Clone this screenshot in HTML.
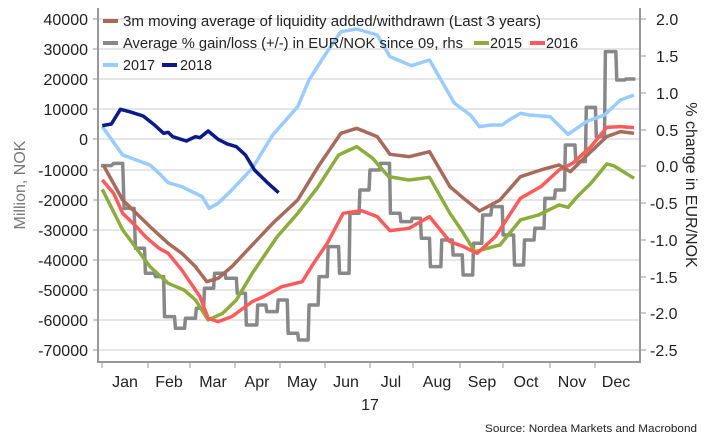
<!DOCTYPE html>
<html><head><meta charset="utf-8"><style>
html,body{margin:0;padding:0;background:#fff;}
svg{display:block;font-family:"Liberation Sans",sans-serif;}
</style></head><body>
<svg width="710" height="448" viewBox="0 0 710 448" xmlns="http://www.w3.org/2000/svg">
<g stroke="#e6e6e6" stroke-width="2">
<line x1="99" x2="640" y1="19" y2="19"/><line x1="99" x2="640" y1="49" y2="49"/><line x1="99" x2="640" y1="79" y2="79"/><line x1="99" x2="640" y1="109" y2="109"/><line x1="99" x2="640" y1="139" y2="139"/><line x1="99" x2="640" y1="170" y2="170"/><line x1="99" x2="640" y1="200" y2="200"/><line x1="99" x2="640" y1="230" y2="230"/><line x1="99" x2="640" y1="260" y2="260"/><line x1="99" x2="640" y1="290" y2="290"/><line x1="99" x2="640" y1="320" y2="320"/><line x1="99" x2="640" y1="350" y2="350"/>
</g>
<g stroke="#999" stroke-width="2" fill="none">
<polyline points="98,8 98,362 640,362 640,8"/>
</g>
<g stroke="#999" stroke-width="1">
<line x1="93" x2="98" y1="19" y2="19"/><line x1="93" x2="98" y1="49" y2="49"/><line x1="93" x2="98" y1="79" y2="79"/><line x1="93" x2="98" y1="109" y2="109"/><line x1="93" x2="98" y1="139" y2="139"/><line x1="93" x2="98" y1="170" y2="170"/><line x1="93" x2="98" y1="200" y2="200"/><line x1="93" x2="98" y1="230" y2="230"/><line x1="93" x2="98" y1="260" y2="260"/><line x1="93" x2="98" y1="290" y2="290"/><line x1="93" x2="98" y1="320" y2="320"/><line x1="93" x2="98" y1="350" y2="350"/>
<line x1="640" x2="646" y1="19" y2="19"/><line x1="640" x2="646" y1="56" y2="56"/><line x1="640" x2="646" y1="93" y2="93"/><line x1="640" x2="646" y1="130" y2="130"/><line x1="640" x2="646" y1="166" y2="166"/><line x1="640" x2="646" y1="203" y2="203"/><line x1="640" x2="646" y1="240" y2="240"/><line x1="640" x2="646" y1="277" y2="277"/><line x1="640" x2="646" y1="313" y2="313"/><line x1="640" x2="646" y1="350" y2="350"/>
<line x1="102" x2="102" y1="362" y2="368"/><line x1="148" x2="148" y1="362" y2="368"/><line x1="190" x2="190" y1="362" y2="368"/><line x1="235" x2="235" y1="362" y2="368"/><line x1="280" x2="280" y1="362" y2="368"/><line x1="325" x2="325" y1="362" y2="368"/><line x1="370" x2="370" y1="362" y2="368"/><line x1="413" x2="413" y1="362" y2="368"/><line x1="460" x2="460" y1="362" y2="368"/><line x1="503" x2="503" y1="362" y2="368"/><line x1="550" x2="550" y1="362" y2="368"/><line x1="595" x2="595" y1="362" y2="368"/>
</g>
<g font-size="16" fill="#222" text-anchor="end">
<text x="88" y="25">40000</text><text x="88" y="55">30000</text><text x="88" y="85">20000</text><text x="88" y="115">10000</text><text x="88" y="145">0</text><text x="88" y="176">-10000</text><text x="88" y="206">-20000</text><text x="88" y="236">-30000</text><text x="88" y="266">-40000</text><text x="88" y="296">-50000</text><text x="88" y="326">-60000</text><text x="88" y="356">-70000</text>
</g>
<g font-size="16" fill="#222" text-anchor="start">
<text x="656" y="25">2.0</text><text x="656" y="62">1.5</text><text x="656" y="99">1.0</text><text x="656" y="136">0.5</text><text x="656" y="172">0.0</text><text x="650" y="209">-0.5</text><text x="650" y="246">-1.0</text><text x="650" y="283">-1.5</text><text x="650" y="319">-2.0</text><text x="650" y="356">-2.5</text>
</g>
<g font-size="16" fill="#222" text-anchor="middle">
<text x="125" y="387">Jan</text><text x="169" y="387">Feb</text><text x="213" y="387">Mar</text><text x="257" y="387">Apr</text><text x="302" y="387">May</text><text x="346" y="387">Jun</text><text x="391" y="387">Jul</text><text x="437" y="387">Aug</text><text x="482" y="387">Sep</text><text x="526" y="387">Oct</text><text x="572" y="387">Nov</text><text x="616" y="387">Dec</text>
<text x="370" y="410">17</text>
</g>
<text transform="translate(25,185) rotate(-90)" font-size="16" fill="#777" text-anchor="middle">Million, NOK</text>
<text transform="translate(686,185) rotate(90)" font-size="16" fill="#222" text-anchor="middle">% change in EUR/NOK</text>
<text x="485" y="432" font-size="11" fill="#222" textLength="212" lengthAdjust="spacingAndGlyphs">Source: Nordea Markets and Macrobond</text>
<g transform="scale(0.4545,0.3333)" fill="none" stroke-linejoin="round">
<polyline vector-effect="non-scaling-stroke" stroke="#888" stroke-width="3.5" points="222,497 245,497 250,490 270,490 273,625 295,625 298,745 318,745 320,820 340,820 342,830 360,830 362,950 384,950 386,985 406,985 408,955 430,955 432,925 448,925 450,865 470,865 472,820 495,820 497,835 520,835 522,880 540,880 542,975 565,975 567,915 585,915 587,935 610,935 612,900 632,900 634,1000 655,1000 657,1020 678,1020 680,915 700,915 702,830 720,830 722,740 745,740 747,820 768,820 770,640 790,640 792,570 812,570 814,510 835,510 837,490 857,490 859,640 880,640 882,665 905,665 907,655 925,655 927,715 945,715 947,800 970,800 972,720 995,720 997,765 1017,765 1019,825 1040,825 1042,730 1060,730 1062,645 1080,645 1082,620 1105,620 1107,705 1130,705 1132,795 1152,795 1154,720 1175,720 1177,685 1197,685 1199,595 1220,595 1222,570 1242,570 1244,435 1265,435 1267,485 1288,485 1290,322 1310,322 1312,410 1330,410 1332,155 1355,155 1357,240 1375,240 1377,237 1398,237"/>
<polyline vector-effect="non-scaling-stroke" stroke="#99ccff" stroke-width="3.5" points="225,380 270,465 300,480 330,495 350,520 370,548 400,560 445,590 460,625 480,610 510,570 555,505 600,405 655,320 680,240 715,165 750,95 785,87 830,105 858,170 905,197 945,180 1000,310 1035,345 1055,380 1080,375 1105,375 1120,360 1145,340 1165,345 1210,350 1250,403 1290,365 1330,345 1365,300 1395,285"/>
<polyline vector-effect="non-scaling-stroke" stroke="#8cad3a" stroke-width="3.5" points="225,568 270,690 300,745 330,800 370,850 405,870 430,900 458,960 490,940 520,900 555,820 610,710 655,640 700,560 745,465 785,440 820,475 855,530 900,540 945,532 990,640 1015,690 1045,755 1100,735 1145,660 1185,645 1230,615 1250,622 1270,590 1300,550 1335,492 1350,497 1395,535"/>
<polyline vector-effect="non-scaling-stroke" stroke="#ff5a5a" stroke-width="3.5" points="225,540 250,580 270,640 300,680 320,710 350,745 370,760 400,810 420,850 440,890 458,955 480,965 510,950 555,905 580,890 620,860 665,845 690,790 720,730 755,640 795,632 830,650 858,692 900,685 945,650 990,725 1020,740 1050,760 1090,710 1145,595 1190,560 1230,510 1260,490 1300,440 1335,382 1365,380 1395,383"/>
<polyline vector-effect="non-scaling-stroke" stroke="#a86a5a" stroke-width="3.5" points="228,497 270,600 330,680 370,730 400,760 430,800 455,845 480,835 510,800 555,735 600,670 655,600 700,500 750,400 785,385 830,410 858,463 900,470 945,455 990,560 1020,595 1055,633 1100,600 1145,530 1190,510 1230,495 1255,515 1300,455 1335,410 1365,395 1395,400"/>
<polyline vector-effect="non-scaling-stroke" stroke="#0a1a8a" stroke-width="3.5" points="225,377 245,372 265,328 285,335 315,348 340,375 360,400 370,397 380,410 410,423 430,410 440,413 458,393 480,418 500,432 520,440 540,465 560,510 590,550 613,578"/>
</g>
<g font-size="15" fill="#222" lengthAdjust="spacingAndGlyphs">
<rect x="103" y="19" width="15" height="4" fill="#a86a5a"/><text x="123" y="26" textLength="418" lengthAdjust="spacingAndGlyphs">3m moving average of liquidity added/withdrawn (Last 3 years)</text>
<rect x="103" y="41" width="15" height="4" fill="#888"/><text x="123" y="48" textLength="340" lengthAdjust="spacingAndGlyphs">Average % gain/loss (+/-) in EUR/NOK since 09, rhs</text>
<rect x="474" y="41" width="15" height="4" fill="#8cad3a"/><text x="490" y="48" textLength="32" lengthAdjust="spacingAndGlyphs">2015</text>
<rect x="530" y="41" width="15" height="4" fill="#ff5a5a"/><text x="546" y="48" textLength="32" lengthAdjust="spacingAndGlyphs">2016</text>
<rect x="103" y="63" width="15" height="4" fill="#99ccff"/><text x="123" y="70" textLength="32" lengthAdjust="spacingAndGlyphs">2017</text>
<rect x="162" y="63" width="15" height="4" fill="#0a1a8a"/><text x="180" y="70" textLength="32" lengthAdjust="spacingAndGlyphs">2018</text>
</g>
</svg>
</body></html>
